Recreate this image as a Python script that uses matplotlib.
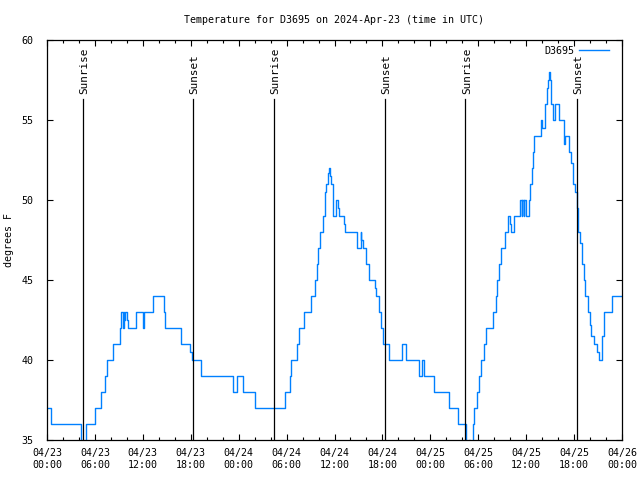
import pandas as pd
import matplotlib
matplotlib.use("Agg")
import matplotlib.pyplot as plt
import matplotlib.dates as mdates

# Readings for D3695, hours after 2024-04-23 00:00 UTC and temperature in F
hours = [0.0, 0.46, 4.22, 4.9, 5.97, 6.72, 7.22, 7.51, 8.3, 9.14, 9.3, 9.48,
         9.58, 9.68, 9.8, 9.98, 10.14, 11.1, 11.98, 12.18, 13.24, 14.65, 14.78,
         16.8, 17.94, 18.16, 19.3, 23.25, 23.83, 24.58, 26.08, 29.77, 30.43,
         30.59, 31.27, 31.52, 32.18, 33.02, 33.6, 33.85, 33.93, 34.19, 34.52,
         34.77, 34.94, 35.19, 35.35, 35.44, 35.6, 35.75, 36.2, 36.4, 36.53,
         37.19, 37.35, 38.76, 39.26, 39.38, 39.53, 39.98, 40.28, 41.01, 41.2,
         41.53, 41.79, 42.04, 42.11, 42.79, 44.45, 44.95, 46.54, 47.0, 47.21,
         48.5, 50.3, 51.5, 52.5, 52.9, 53.0, 53.31, 53.47, 53.88, 54.13, 54.38,
         54.72, 54.97, 55.81, 56.2, 56.4, 56.64, 56.89, 57.39, 57.73, 57.98,
         58.04, 58.5, 59.23, 59.42, 59.54, 59.67, 59.79, 59.92, 60.3, 60.48,
         60.67, 60.86, 61.0, 61.82, 62.02, 62.32, 62.57, 62.74, 62.82, 62.95,
         63.07, 63.32, 63.57, 64.05, 64.17, 64.74, 64.9, 65.33, 65.58, 65.83,
         66.08, 66.33, 66.49, 66.74, 66.93, 67.18, 67.33, 67.74, 67.99, 68.16,
         68.5, 68.91, 69.08, 69.5, 69.75, 70.75, 72.0]
temps = [37, 36, 34, 36, 37, 38, 39, 40, 41, 42, 43, 42,
         43, 42.5, 43, 42.5, 42, 43, 42, 43, 44, 43, 42,
         41, 40.5, 40, 39, 38, 39, 38, 37, 38, 39,
         40, 41, 42, 43, 44, 45, 46, 47, 48, 49,
         50.5, 51, 51.7, 52, 51.5, 51, 49, 50, 49.5, 49,
         48.5, 48, 47, 48, 47.5, 47, 46, 45, 44.5, 44,
         43, 42, 41.5, 41, 40, 41, 40, 39, 40, 39,
         38, 37, 36, 34, 35, 34, 36, 37, 38, 39, 40,
         41, 42, 43, 44, 45, 46, 47, 48, 49, 48.5,
         48, 49, 50, 49, 50, 49, 50, 49, 50, 51,
         52, 53, 54, 55, 54.5, 56, 57, 57.5, 58, 57.5,
         56, 55, 56, 55.5, 55, 53.5, 54, 53, 52.3, 51,
         50.5, 49.5, 48, 47.3, 46, 45, 44, 43, 42.2, 41.5,
         41, 40.5, 40, 41.5, 43, 44, 44]

sun_hours = [4.45, 18.3, 28.45, 42.37, 52.4, 66.4]
sun_labels = ["Sunrise", "Sunset", "Sunrise", "Sunset", "Sunrise", "Sunset"]

start = pd.Timestamp("2024-04-23 00:00")
times = start + pd.to_timedelta(hours, unit="h")
sun_times = start + pd.to_timedelta(sun_hours, unit="h")

plt.rcParams["font.family"] = "DejaVu Sans Mono"
plt.rcParams["font.size"] = 7.2

fig = plt.figure(figsize=(6.4, 4.8), dpi=100)
ax = fig.add_axes([47 / 640, 40 / 480, 575 / 640, 400 / 480])

ax.step(times, temps, where="post", color="#0080ff", lw=1.0, label="D3695")

line_top = 56.3
for t, lab in zip(sun_times, sun_labels):
    ax.plot([t, t], [35, line_top], color="black", lw=0.9)
    ax.text(t + pd.Timedelta(minutes=10), line_top + 0.3, lab, rotation=90,
            ha="center", va="bottom", fontsize=7.9)

ax.set_xlim(start, start + pd.Timedelta(hours=72))
ax.set_ylim(35, 60)
ax.set_yticks([35, 40, 45, 50, 55, 60])
ax.xaxis.set_major_locator(mdates.HourLocator(byhour=[0, 6, 12, 18]))
ax.xaxis.set_minor_locator(mdates.HourLocator(interval=2))
ax.xaxis.set_major_formatter(mdates.DateFormatter("%m/%d\n%H:%M"))
ax.tick_params(which="both", direction="in", top=True, right=True, width=0.8)
ax.tick_params(which="major", length=4.5, pad=6)
ax.tick_params(axis="y", which="major", pad=10)
ax.tick_params(which="minor", length=2.5)
for s in ax.spines.values():
    s.set_linewidth(0.9)

ax.set_title("Temperature for D3695 on 2024-Apr-23 (time in UTC)", fontsize=7.2, pad=12)
ax.set_ylabel("degrees F")
ax.yaxis.set_label_coords(-0.058, 0.5)

ax.legend(loc="upper right", bbox_to_anchor=(1 - 7 / 575, 1.0), frameon=False,
          markerfirst=False, handlelength=3.0, borderaxespad=0.2, handletextpad=0.5)

fig.savefig("out.png", dpi=100)
